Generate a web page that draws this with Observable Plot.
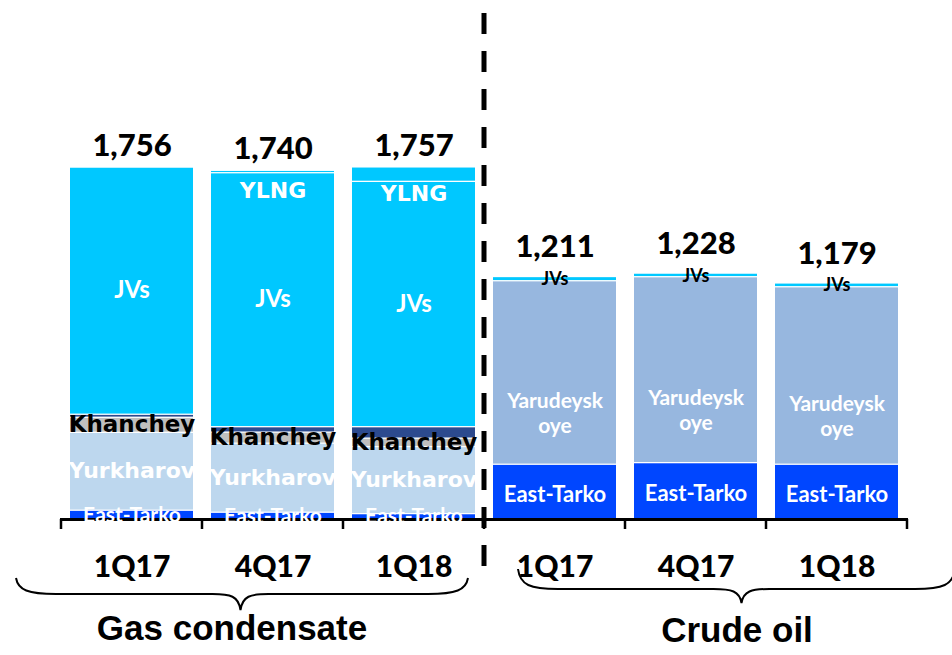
<!DOCTYPE html>
<html>
<head>
<meta charset="utf-8">
<script src="https://cdn.jsdelivr.net/npm/d3@7"></script>
<script src="https://cdn.jsdelivr.net/npm/@observablehq/plot@0.6"></script>
<style>
  html, body { margin: 0; padding: 0; background: #fff; }
  #chart svg { display: block; }
</style>
</head>
<body>
<div id="chart"></div>
<script>
// ---- data ----
const periods = ["1Q17", "4Q17", "1Q18"];
const groups = ["Gas condensate", "Crude oil"];

const gasEastTarko = [47, 37, 30];
const gasYurkharov = [388, 344, 334];
const gasKhanchey  = [75, 55, 42];
const gasOther     = [15, 27, 57];
const gasJVs       = [1231, 1265, 1222];
const gasYLNG      = [0, 12, 72];
const gasTotals    = [1756, 1740, 1757];

const oilEastTarko    = [276, 284, 276];
const oilYarudeyskoye = [914, 926, 884];
const oilJVs          = [21, 18, 19];
const oilTotals       = [1211, 1228, 1179];

const seriesOrder = ["East-Tarko", "Yurkharov", "Yarudeyskoye", "Khanchey", "Other", "JVs", "YLNG"];
const seriesFill  = ["#0046ff", "#bdd7ee", "#97b7df", "#bfbfbf", "#2c4a8e", "#00c8ff", "#00c8ff"];

// ---- build tables ----
const keyOf = (g, p) => g + "|" + p;
const keys = groups.flatMap(g => periods.map(p => keyOf(g, p)));

function rowsFor(group, series, values, label) {
  return periods.map((p, i) => ({
    key: keyOf(group, p), group, period: p, series,
    value: values[i], label: values[i] > 0 ? label : null
  }));
}
const G = groups[0], O = groups[1];
const rows = [
  ...rowsFor(G, "East-Tarko", gasEastTarko, "East-Tarko"),
  ...rowsFor(G, "Yurkharov", gasYurkharov, "Yurkharov"),
  ...rowsFor(G, "Khanchey", gasKhanchey, "Khanchey"),
  ...rowsFor(G, "Other", gasOther, null),
  ...rowsFor(G, "JVs", gasJVs, "JVs"),
  ...rowsFor(G, "YLNG", gasYLNG, "YLNG"),
  ...rowsFor(O, "East-Tarko", oilEastTarko, "East-Tarko"),
  ...rowsFor(O, "Yarudeyskoye", oilYarudeyskoye, "Yarudeysk\noye"),
  ...rowsFor(O, "JVs", oilJVs, "JVs")
];
const gasTotalRows = periods.map((p, i) => ({key: keyOf(G, p), total: gasTotals[i]}));
const oilTotalRows = periods.map((p, i) => ({key: keyOf(O, p), total: oilTotals[i]}));

const stackOpts = {x: "key", y: "value", z: "series", order: seriesOrder};
const segText = (pred, opts) =>
  Plot.text(rows, Plot.stackY({...stackOpts, text: d => (pred(d) ? d.label : null), fontWeight: "bold", ...opts}));

const LATO = "Lato, 'DejaVu Sans', sans-serif";
const DEJA = "'DejaVu Sans', sans-serif";
const ARIAL = "'Liberation Sans', Arial, sans-serif";
const totalStyle = {x: "key", y: "total", text: d => d3.format(",")(d.total), fontSize: 31, fontWeight: 900, fontFamily: LATO, fill: "#000"};

const chart = Plot.plot({
  width: 952,
  height: 655,
  marginLeft: 60,
  marginRight: 44,
  marginTop: 0,
  marginBottom: 136,
  style: {background: "#fff", fontFamily: LATO},
  x: {domain: keys, paddingInner: 0.13, paddingOuter: 0.065, axis: null},
  y: {domain: [0, 2585], axis: null},
  color: {domain: seriesOrder, range: seriesFill},
  marks: [
    Plot.barY(rows, Plot.stackY({...stackOpts, fill: "series", insetTop: 1.3})),
    Plot.ruleY([0], {stroke: "#000", strokeWidth: 3}),
    Plot.axisX({
      tickSize: 0, tickPadding: 36, label: null,
      tickFormat: k => k.split("|")[1],
      fontSize: 30, fontWeight: 900, fontFamily: LATO, fill: "#000"
    }),
    // segment labels
    segText(d => d.group === G && d.series === "JVs", {fill: "#fff", fontSize: 24, fontFamily: LATO}),
    segText(d => d.group === G && d.series === "East-Tarko", {fill: "#fff", fontSize: 21, fontFamily: LATO}),
    segText(d => d.group === G && d.series === "Yurkharov", {fill: "#fff", fontSize: 22, fontFamily: DEJA}),
    segText(d => d.group === G && d.series === "Khanchey", {fill: "#000", fontSize: 23, fontFamily: DEJA}),
    segText(d => d.group === G && d.series === "YLNG", {fill: "#fff", fontSize: 22, fontFamily: DEJA, dy: 20}),
    segText(d => d.group === O && d.series === "JVs", {fill: "#000", fontSize: 18, fontFamily: LATO, dy: 1}),
    segText(d => d.group === O && d.series === "Yarudeyskoye", {fill: "#fff", fontSize: 21, fontFamily: LATO, lineHeight: 1.2, dy: 40}),
    segText(d => d.group === O && d.series === "East-Tarko", {fill: "#fff", fontSize: 22, fontFamily: LATO, dy: 3}),
    // totals
    Plot.text(gasTotalRows, {...totalStyle, dy: -21}),
    Plot.text(oilTotalRows, {...totalStyle, dy: -29}),
    // group labels
    Plot.text([{key: keyOf(G, "4Q17"), name: G}], {x: "key", text: "name", frameAnchor: "bottom", dy: 120, dx: -41, fontSize: 35, fontWeight: "bold", fontFamily: ARIAL, fill: "#000"}),
    Plot.text([{key: keyOf(O, "4Q17"), name: O}], {x: "key", text: "name", frameAnchor: "bottom", dy: 122, dx: 41, fontSize: 35, fontWeight: "bold", fontFamily: ARIAL, fill: "#000"})
  ]
});

document.getElementById("chart").appendChild(chart);

// ---- decorations derived from the plot's own scales ----
const svgEl = chart.tagName.toLowerCase() === "svg" ? chart : chart.querySelector("svg");
const xs = chart.scale("x");
const ys = chart.scale("y");
const off = (xs.step - xs.bandwidth) / 2;
const bounds = keys.map(k => xs.apply(k) - off).concat([xs.apply(keys[keys.length - 1]) + xs.bandwidth + off]);
const y0 = ys.apply(0);
const svg = d3.select(svgEl);
const deco = svg.append("g").attr("fill", "none").attr("stroke", "#000");

// axis tick marks at category boundaries
deco.selectAll("line.tk").data(bounds).join("line")
  .attr("x1", d => d).attr("x2", d => d)
  .attr("y1", y0).attr("y2", y0 + 10)
  .attr("stroke-width", 2.5);

// dashed divider between the two groups
const divX = bounds[3];
deco.append("line")
  .attr("x1", divX).attr("x2", divX)
  .attr("y1", y0 - 506).attr("y2", y0 + 48)
  .attr("stroke-width", 5).attr("stroke-dasharray", "21,17");

// curly braces
function brace(x0, x1, xm, yTop, yMid, yTip) {
  return `M${x0},${yTop} C${x0 + 2},${yMid - 4} ${x0 + 12},${yMid} ${x0 + 40},${yMid}`
    + ` L${xm - 28},${yMid} C${xm - 10},${yMid} ${xm - 2},${yMid + 2} ${xm},${yTip}`
    + ` C${xm + 2},${yMid + 2} ${xm + 10},${yMid} ${xm + 28},${yMid}`
    + ` L${x1 - 40},${yMid} C${x1 - 12},${yMid} ${x1 - 2},${yMid - 4} ${x1},${yTop}`;
}
const gasMid = xs.apply(keyOf(G, "4Q17")) + xs.bandwidth / 2;
const oilMid = xs.apply(keyOf(O, "4Q17")) + xs.bandwidth / 2;
deco.append("path")
  .attr("d", brace(bounds[0] - 45, bounds[3] - 16, gasMid - 32, y0 + 59, y0 + 75, y0 + 91))
  .attr("stroke-width", 2);
deco.append("path")
  .attr("d", brace(bounds[3] + 34, bounds[6] + 48, oilMid + 46, y0 + 50, y0 + 70, y0 + 84))
  .attr("stroke-width", 2);
</script>
</body>
</html>
